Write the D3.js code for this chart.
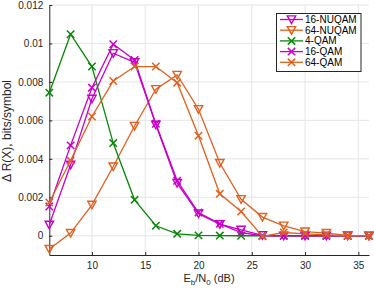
<!DOCTYPE html>
<html><head><meta charset="utf-8">
<script src="https://cdn.jsdelivr.net/npm/d3@7/dist/d3.min.js"></script>
<style>body{margin:0;background:#fff}svg{display:block;font-family:"Liberation Sans",Arial,sans-serif}</style>
</head><body>
<svg id="c" width="374" height="291"></svg>
<script>
const ebn0 = [6,8,10,12,14,16,18,20,22,24,26,28,30,32,34,36];
const nuqam16 = [0.00057,0.00369,0.00712,0.00949,0.00902,0.00577,0.00274,0.00115,0.0006,0.00031,0.00002,0,0,0,0,0];
const nuqam64 = [-0.00069,0.00014,0.00161,0.0036,0.00571,0.00762,0.00836,0.00658,0.00378,0.0019,0.00097,0.00052,0.00022,0.00014,0.00002,0];
const qam4 = [0.00744,0.01048,0.0088,0.00482,0.00187,0.00052,0.0001,0.00002,0.00001,0,0,0,0,0,0,0];
const qam16 = [0.00152,0.0047,0.0077,0.00996,0.00914,0.00582,0.00286,0.00121,0.00062,0.00017,0,0,0,0,0,0];
const qam64 = [0.00173,0.00391,0.0062,0.00805,0.0088,0.0088,0.00796,0.0052,0.00218,0.00126,-0.00003,0.00017,0.0001,0.00005,0,0];
const seriesNames = ["16-NUQAM","64-NUQAM","4-QAM","16-QAM","64-QAM"];
const xTicks = [10,15,20,25,30,35];
const yTicks = [0,0.002,0.004,0.006,0.008,0.01,0.012];

const magenta = "#c800c8", orange = "#e0601e", green = "#0a870a";
const series = [
  {name: seriesNames[0], values: nuqam16, color: magenta, marker: "tri"},
  {name: seriesNames[1], values: nuqam64, color: orange, marker: "tri"},
  {name: seriesNames[2], values: qam4, color: green, marker: "x"},
  {name: seriesNames[3], values: qam16, color: magenta, marker: "x"},
  {name: seriesNames[4], values: qam64, color: orange, marker: "x"}
];

const svg = d3.select("#c");
const L = 49.3, R = 369, T = 5, B = 255;
const x = d3.scaleLinear().domain([6,36]).range([L,R]);
const y = d3.scaleLinear().domain([-0.001,0.012]).range([B,T]);

// grid
const g = svg.append("g");
g.selectAll(".gx").data(xTicks).join("line")
  .attr("x1", d=>x(d)).attr("x2", d=>x(d)).attr("y1", T).attr("y2", B)
  .attr("stroke", "#e6e6e6").attr("stroke-width", 1);
g.selectAll(".gy").data(yTicks).join("line")
  .attr("x1", L).attr("x2", R).attr("y1", d=>y(d)).attr("y2", d=>y(d))
  .attr("stroke", "#e6e6e6").attr("stroke-width", 1);

// axes
const xa = svg.append("g").attr("transform", `translate(0,${B})`)
  .call(d3.axisBottom(x).tickValues(xTicks).tickSizeInner(-3).tickSizeOuter(0).tickPadding(7).tickFormat(d=>d));
const ya = svg.append("g").attr("transform", `translate(${L},0)`)
  .call(d3.axisLeft(y).tickValues(yTicks).tickSizeInner(-3).tickSizeOuter(0).tickPadding(6)
    .tickFormat(d => d === 0 ? "0" : String(+d.toFixed(3))));
[xa, ya].forEach(a => {
  a.select(".domain").attr("stroke", "#262626");
  a.selectAll(".tick line").attr("stroke", "#262626");
  a.selectAll("text").attr("fill", "#262626").style("font-size", "10px")
    .style("font-family", '"Liberation Sans",Arial,sans-serif');
});

function drawMarker(sel, type, color) {
  if (type === "tri") {
    sel.append("path").attr("d", "M-4.2,-3.6L4.2,-3.6L0,4Z")
      .attr("fill", "none").attr("stroke", color).attr("stroke-width", 1.4);
  } else {
    sel.append("path").attr("d", "M-3.7,-3.7L3.7,3.7M-3.7,3.7L3.7,-3.7")
      .attr("fill", "none").attr("stroke", color).attr("stroke-width", 1.5);
  }
}

const line = d3.line().x((d,i)=>x(ebn0[i])).y(d=>y(d));
series.forEach(s => {
  const sg = svg.append("g");
  sg.append("path").datum(s.values).attr("d", line)
    .attr("fill", "none").attr("stroke", s.color).attr("stroke-width", 1.3);
  s.values.forEach((v,i) => {
    const m = sg.append("g").attr("transform", `translate(${x(ebn0[i])},${y(v)})`);
    drawMarker(m, s.marker, s.color);
  });
});

// legend
const lg = svg.append("g");
lg.append("rect").attr("x", 276.5).attr("y", 13.5).attr("width", 84.5).attr("height", 58)
  .attr("fill", "#fff").attr("stroke", "#262626").attr("stroke-width", 1);
series.forEach((s,i) => {
  const yy = 19.5 + i*10.7;
  lg.append("line").attr("x1", 280).attr("x2", 303).attr("y1", yy).attr("y2", yy)
    .attr("stroke", s.color).attr("stroke-width", 1.3);
  drawMarker(lg.append("g").attr("transform", `translate(291.5,${yy})`), s.marker, s.color);
  lg.append("text").attr("x", 305).attr("y", yy).attr("dy", "0.35em")
    .style("font-size", "10px").attr("fill", "#000").text(s.name);
});

// axis labels
const xl = svg.append("text").attr("x", 209).attr("y", 282).attr("text-anchor", "middle")
  .style("font-size", "11px").attr("fill", "#262626");
xl.append("tspan").text("E");
xl.append("tspan").attr("dy", 3).style("font-size", "8px").text("b");
xl.append("tspan").attr("dy", -3).text("/N");
xl.append("tspan").attr("dy", 3).style("font-size", "8px").text("0");
xl.append("tspan").attr("dy", -3).text(" (dB)");

svg.append("text").attr("transform", `translate(10.5,131) rotate(-90)`).attr("text-anchor", "middle")
  .style("font-size", "12px").attr("fill", "#262626").text("Δ R(X), bits/symbol");
</script>
</body></html>
